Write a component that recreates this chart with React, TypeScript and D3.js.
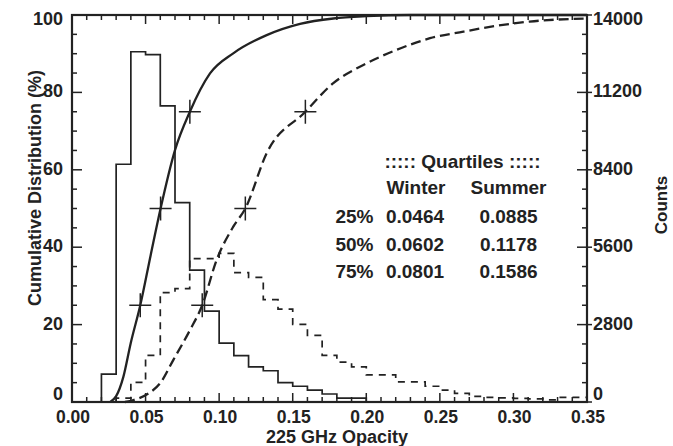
import React from "react";
import * as d3 from "d3";

// ---- data ----
const binWidth = 0.01;
const winterBinStart = 0.02;
const winterCounts = [1010, 8600, 12670, 12570, 10710, 7210, 4770, 3290, 2130, 1680, 1270, 1130, 700, 570, 430, 290, 140, 140];
const summerBinStart = 0.03;
const summerCounts = [140, 710, 1690, 3960, 4100, 5190, 5190, 5380, 4680, 4510, 3700, 3360, 2810, 2410, 1690, 1440, 1270, 980, 980, 730, 730, 570, 430, 310, 200, 170, 150, 130, 110, 80, 170, 170];

const winterCumX = [0.026, 0.030, 0.0349, 0.0399, 0.0464, 0.0535, 0.0602, 0.070, 0.0801, 0.0938, 0.1096, 0.1323, 0.155, 0.1776, 0.20, 0.23, 0.35];
const winterCumY = [0, 1.5, 6.5, 15.2, 25, 38, 50, 65.1, 75, 84.9, 90.1, 94.8, 97.7, 99.1, 99.7, 100, 100];
const summerCumX = [0.036, 0.0417, 0.0519, 0.0598, 0.0689, 0.0802, 0.0885, 0.0983, 0.1096, 0.1178, 0.1323, 0.1586, 0.1776, 0.198, 0.2207, 0.2433, 0.266, 0.2886, 0.311, 0.35];
const summerCumY = [0, 0.5, 2.2, 4.8, 10.9, 18.6, 25, 36.7, 45.3, 50, 64.3, 75, 82.4, 87.1, 91, 94, 95.7, 97.2, 98.3, 99.1];

const quartileLevels = [25, 50, 75];
const winterQuartiles = [0.0464, 0.0602, 0.0801];
const summerQuartiles = [0.0885, 0.1178, 0.1586];

const xTicks = [0, 0.05, 0.1, 0.15, 0.2, 0.25, 0.3, 0.35];
const yTicks = [0, 20, 40, 60, 80, 100];
const countTicks = [0, 2800, 5600, 8400, 11200, 14000];

// ---- layout ----
const W = 673, H = 446;
const L = 72, R = 587, T = 15, B = 402;
const ink = "#222";
const font = "'Liberation Sans', Arial, Helvetica, sans-serif";

export default function App() {
  const x = d3.scaleLinear().domain([0, 0.35]).range([L, R]);
  const y = d3.scaleLinear().domain([0, 100]).range([B, T]);
  const yc = d3.scaleLinear().domain([0, 14000]).range([B, T]);

  const histPts = (start: number, counts: number[]) => {
    const pts: [number, number][] = [[start, 0]];
    counts.forEach((c, i) => {
      const x0 = start + i * binWidth;
      pts.push([x0, c], [x0 + binWidth, c]);
    });
    pts.push([start + counts.length * binWidth, 0]);
    return pts;
  };
  const histLine = d3.line<[number, number]>().x(d => x(d[0])).y(d => yc(d[1]));
  const cumLine = d3.line<[number, number]>().x(d => x(d[0])).y(d => y(d[1])).curve(d3.curveMonotoneX);

  const winterCum = winterCumX.map((v, i) => [v, winterCumY[i]] as [number, number]);
  const summerCum = summerCumX.map((v, i) => [v, summerCumY[i]] as [number, number]);

  const minorX = d3.range(0, 36).map(i => i * 0.01);
  const minorY = d3.range(0, 21).map(i => i * 5);

  const labelBaseline = (py: number) => Math.max(T + 10, Math.min(B - 2, py + 5));

  const crosses = (qs: number[]) =>
    qs.map((q, i) => (
      <g key={i}>
        <line x1={x(q) - 11} x2={x(q) + 11} y1={y(quartileLevels[i])} y2={y(quartileLevels[i])} stroke={ink} strokeWidth={1.5} />
        <line x1={x(q)} x2={x(q)} y1={y(quartileLevels[i]) - 12} y2={y(quartileLevels[i]) + 12} stroke={ink} strokeWidth={1.5} />
      </g>
    ));

  const rowBase = [222.7, 250.5, 278.3];

  return (
    <svg width={W} height={H} style={{ position: "absolute", left: 0, top: 0, background: "#fff" }} fontFamily={font} fontWeight="bold" fill={ink}>
      <rect x={0} y={0} width={W} height={H} fill="#fff" />
      {/* histograms */}
      <path d={histLine(histPts(winterBinStart, winterCounts)) || ""} fill="none" stroke={ink} strokeWidth={1.7} />
      <path d={histLine(histPts(summerBinStart, summerCounts)) || ""} fill="none" stroke={ink} strokeWidth={1.7} strokeDasharray="7,6" />
      {/* cumulative curves */}
      <path d={cumLine(winterCum) || ""} fill="none" stroke={ink} strokeWidth={2.3} />
      <path d={cumLine(summerCum) || ""} fill="none" stroke={ink} strokeWidth={2.3} strokeDasharray="10,5" />
      {crosses(winterQuartiles)}
      {crosses(summerQuartiles)}

      {/* ticks */}
      {minorX.map((v, i) => {
        const major = i % 5 === 0;
        const len = major ? 9 : 5;
        return (
          <g key={"xt" + i}>
            <line x1={x(v)} x2={x(v)} y1={B} y2={B - len} stroke={ink} strokeWidth={1.5} />
            <line x1={x(v)} x2={x(v)} y1={T} y2={T + len} stroke={ink} strokeWidth={1.5} />
          </g>
        );
      })}
      {minorY.map((v, i) => {
        const major = i % 4 === 0;
        const len = major ? 10 : 5;
        return (
          <g key={"yt" + i}>
            <line x1={L} x2={L + len} y1={y(v)} y2={y(v)} stroke={ink} strokeWidth={1.5} />
            <line x1={R + (major ? 5 : 0)} x2={R - len} y1={y(v)} y2={y(v)} stroke={ink} strokeWidth={1.5} />
          </g>
        );
      })}
      {/* frame */}
      <rect x={L} y={T} width={R - L} height={B - T} fill="none" stroke={ink} strokeWidth={2.2} />

      {/* tick labels */}
      {xTicks.map((v, i) => (
        <text key={"xl" + i} x={x(v) + 1} y={422.5} textAnchor="middle" fontSize={17.5}>{v.toFixed(2)}</text>
      ))}
      {yTicks.map((v, i) => (
        <text key={"yl" + i} x={63} y={labelBaseline(y(v))} textAnchor="end" fontSize={18}>{v}</text>
      ))}
      {countTicks.map((v, i) => (
        <text key={"cl" + i} x={593} y={labelBaseline(yc(v))} textAnchor="start" fontSize={18}>{v}</text>
      ))}

      {/* axis titles */}
      <text x={337} y={443} textAnchor="middle" fontSize={18}>225 GHz Opacity</text>
      <text transform={`translate(41,188) rotate(-90)`} textAnchor="middle" fontSize={18}>Cumulative Distribution (%)</text>
      <text transform={`translate(667,205) rotate(-90)`} textAnchor="middle" fontSize={17}>Counts</text>

      {/* quartile table */}
      <text x={462.5} y={168} textAnchor="middle" fontSize={19}>::::: Quartiles :::::</text>
      <text x={416} y={194.3} textAnchor="middle" fontSize={19}>Winter</text>
      <text x={508.5} y={194.3} textAnchor="middle" fontSize={19}>Summer</text>
      {quartileLevels.map((p, i) => (
        <g key={"row" + i}>
          <text x={373.5} y={rowBase[i]} textAnchor="end" fontSize={19}>{p}%</text>
          <text x={415} y={rowBase[i]} textAnchor="middle" fontSize={19}>{winterQuartiles[i].toFixed(4)}</text>
          <text x={508.5} y={rowBase[i]} textAnchor="middle" fontSize={19}>{summerQuartiles[i].toFixed(4)}</text>
        </g>
      ))}
    </svg>
  );
}
